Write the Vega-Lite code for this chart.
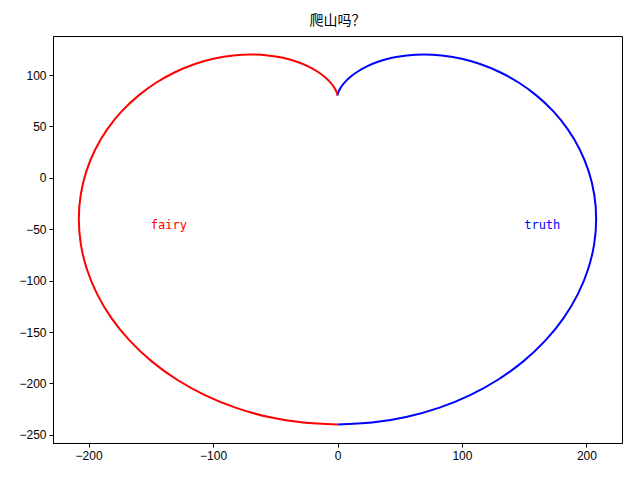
{
  "$schema": "https://vega.github.io/schema/vega-lite/v6.json",
  "autosize": "none",
  "width": 569,
  "height": 407,
  "padding": {"left": 53, "top": 36, "right": 18, "bottom": 37},
  "background": "white",
  "title": {"text": "爬山吗？", "font": "Noto Sans CJK SC", "fontSize": 14, "fontWeight": "normal", "color": "black", "offset": 8},
  "config": {
    "view": {"stroke": "black", "strokeWidth": 1},
    "axis": {"grid": false, "domainColor": "black", "tickColor": "black", "labelColor": "black", "labelFont": "Liberation Sans", "labelFontSize": 12, "tickSize": 4, "labelPadding": 3, "title": null}
  },
  "datasets": {
    "curve": [
      {"s": "blue", "i": 0, "x": 0, "y": 80},
      {"s": "blue", "i": 1, "x": 0.053, "y": 80.61},
      {"s": "blue", "i": 2, "x": 0.422, "y": 82.39},
      {"s": "blue", "i": 3, "x": 1.411, "y": 85.27},
      {"s": "blue", "i": 4, "x": 3.300, "y": 89.07},
      {"s": "blue", "i": 5, "x": 6.335, "y": 93.59},
      {"s": "blue", "i": 6, "x": 10.718, "y": 98.56},
      {"s": "blue", "i": 7, "x": 16.597, "y": 103.70},
      {"s": "blue", "i": 8, "x": 24.062, "y": 108.68},
      {"s": "blue", "i": 9, "x": 33.137, "y": 113.14},
      {"s": "blue", "i": 10, "x": 43.782, "y": 116.74},
      {"s": "blue", "i": 11, "x": 55.888, "y": 119.13},
      {"s": "blue", "i": 12, "x": 69.282, "y": 120},
      {"s": "blue", "i": 13, "x": 83.726, "y": 119.04},
      {"s": "blue", "i": 14, "x": 98.928, "y": 116.01},
      {"s": "blue", "i": 15, "x": 114.549, "y": 110.69},
      {"s": "blue", "i": 16, "x": 130.208, "y": 102.96},
      {"s": "blue", "i": 17, "x": 145.498, "y": 92.73},
      {"s": "blue", "i": 18, "x": 160, "y": 80},
      {"s": "blue", "i": 19, "x": 173.283, "y": 64.84},
      {"s": "blue", "i": 20, "x": 184.932, "y": 47.39},
      {"s": "blue", "i": 21, "x": 194.549, "y": 27.87},
      {"s": "blue", "i": 22, "x": 201.773, "y": 6.56},
      {"s": "blue", "i": 23, "x": 206.293, "y": -16.20},
      {"s": "blue", "i": 24, "x": 207.846, "y": -40},
      {"s": "blue", "i": 25, "x": 206.240, "y": -64.41},
      {"s": "blue", "i": 26, "x": 201.353, "y": -88.96},
      {"s": "blue", "i": 27, "x": 193.139, "y": -113.14},
      {"s": "blue", "i": 28, "x": 181.631, "y": -136.46},
      {"s": "blue", "i": 29, "x": 166.948, "y": -158.43},
      {"s": "blue", "i": 30, "x": 149.282, "y": -178.57},
      {"s": "blue", "i": 31, "x": 128.903, "y": -196.43},
      {"s": "blue", "i": 32, "x": 106.146, "y": -211.63},
      {"s": "blue", "i": 33, "x": 81.412, "y": -223.83},
      {"s": "blue", "i": 34, "x": 55.146, "y": -232.75},
      {"s": "blue", "i": 35, "x": 27.838, "y": -238.17},
      {"s": "blue", "i": 36, "x": 0, "y": -240},
      {"s": "red", "i": 0, "x": 0, "y": 80},
      {"s": "red", "i": 1, "x": -0.053, "y": 80.61},
      {"s": "red", "i": 2, "x": -0.422, "y": 82.39},
      {"s": "red", "i": 3, "x": -1.411, "y": 85.27},
      {"s": "red", "i": 4, "x": -3.300, "y": 89.07},
      {"s": "red", "i": 5, "x": -6.335, "y": 93.59},
      {"s": "red", "i": 6, "x": -10.718, "y": 98.56},
      {"s": "red", "i": 7, "x": -16.597, "y": 103.70},
      {"s": "red", "i": 8, "x": -24.062, "y": 108.68},
      {"s": "red", "i": 9, "x": -33.137, "y": 113.14},
      {"s": "red", "i": 10, "x": -43.782, "y": 116.74},
      {"s": "red", "i": 11, "x": -55.888, "y": 119.13},
      {"s": "red", "i": 12, "x": -69.282, "y": 120},
      {"s": "red", "i": 13, "x": -83.726, "y": 119.04},
      {"s": "red", "i": 14, "x": -98.928, "y": 116.01},
      {"s": "red", "i": 15, "x": -114.549, "y": 110.69},
      {"s": "red", "i": 16, "x": -130.208, "y": 102.96},
      {"s": "red", "i": 17, "x": -145.498, "y": 92.73},
      {"s": "red", "i": 18, "x": -160, "y": 80},
      {"s": "red", "i": 19, "x": -173.283, "y": 64.84},
      {"s": "red", "i": 20, "x": -184.932, "y": 47.39},
      {"s": "red", "i": 21, "x": -194.549, "y": 27.87},
      {"s": "red", "i": 22, "x": -201.773, "y": 6.56},
      {"s": "red", "i": 23, "x": -206.293, "y": -16.20},
      {"s": "red", "i": 24, "x": -207.846, "y": -40},
      {"s": "red", "i": 25, "x": -206.240, "y": -64.41},
      {"s": "red", "i": 26, "x": -201.353, "y": -88.96},
      {"s": "red", "i": 27, "x": -193.139, "y": -113.14},
      {"s": "red", "i": 28, "x": -181.631, "y": -136.46},
      {"s": "red", "i": 29, "x": -166.948, "y": -158.43},
      {"s": "red", "i": 30, "x": -149.282, "y": -178.57},
      {"s": "red", "i": 31, "x": -128.903, "y": -196.43},
      {"s": "red", "i": 32, "x": -106.146, "y": -211.63},
      {"s": "red", "i": 33, "x": -81.412, "y": -223.83},
      {"s": "red", "i": 34, "x": -55.146, "y": -232.75},
      {"s": "red", "i": 35, "x": -27.838, "y": -238.17},
      {"s": "red", "i": 36, "x": 0, "y": -240}
    ],
    "labels": [
      {"s": "red", "label": "fairy", "x": -150, "y": -50},
      {"s": "blue", "label": "truth", "x": 150, "y": -50}
    ]
  },
  "encoding": {
    "x": {"field": "x", "type": "quantitative", "scale": {"domain": [-228.6, 228.6], "nice": false, "zero": false}, "axis": {"values": [-200, -100, 0, 100, 200]}},
    "y": {"field": "y", "type": "quantitative", "scale": {"domain": [-258, 138], "nice": false, "zero": false}, "axis": {"values": [-250, -200, -150, -100, -50, 0, 50, 100]}},
    "color": {"field": "s", "type": "nominal", "scale": {"domain": ["red", "blue"], "range": ["#ff0000", "#0000ff"]}, "legend": null}
  },
  "layer": [
    {
      "data": {"name": "curve"},
      "mark": {"type": "line", "interpolate": "natural", "strokeWidth": 2},
      "encoding": {"order": {"field": "i", "type": "quantitative"}, "detail": {"field": "s"}}
    },
    {
      "data": {"name": "labels"},
      "mark": {"type": "text", "align": "left", "baseline": "alphabetic", "font": "DejaVu Sans Mono", "fontSize": 12, "dy": 0},
      "encoding": {"text": {"field": "label"}}
    }
  ]
}
